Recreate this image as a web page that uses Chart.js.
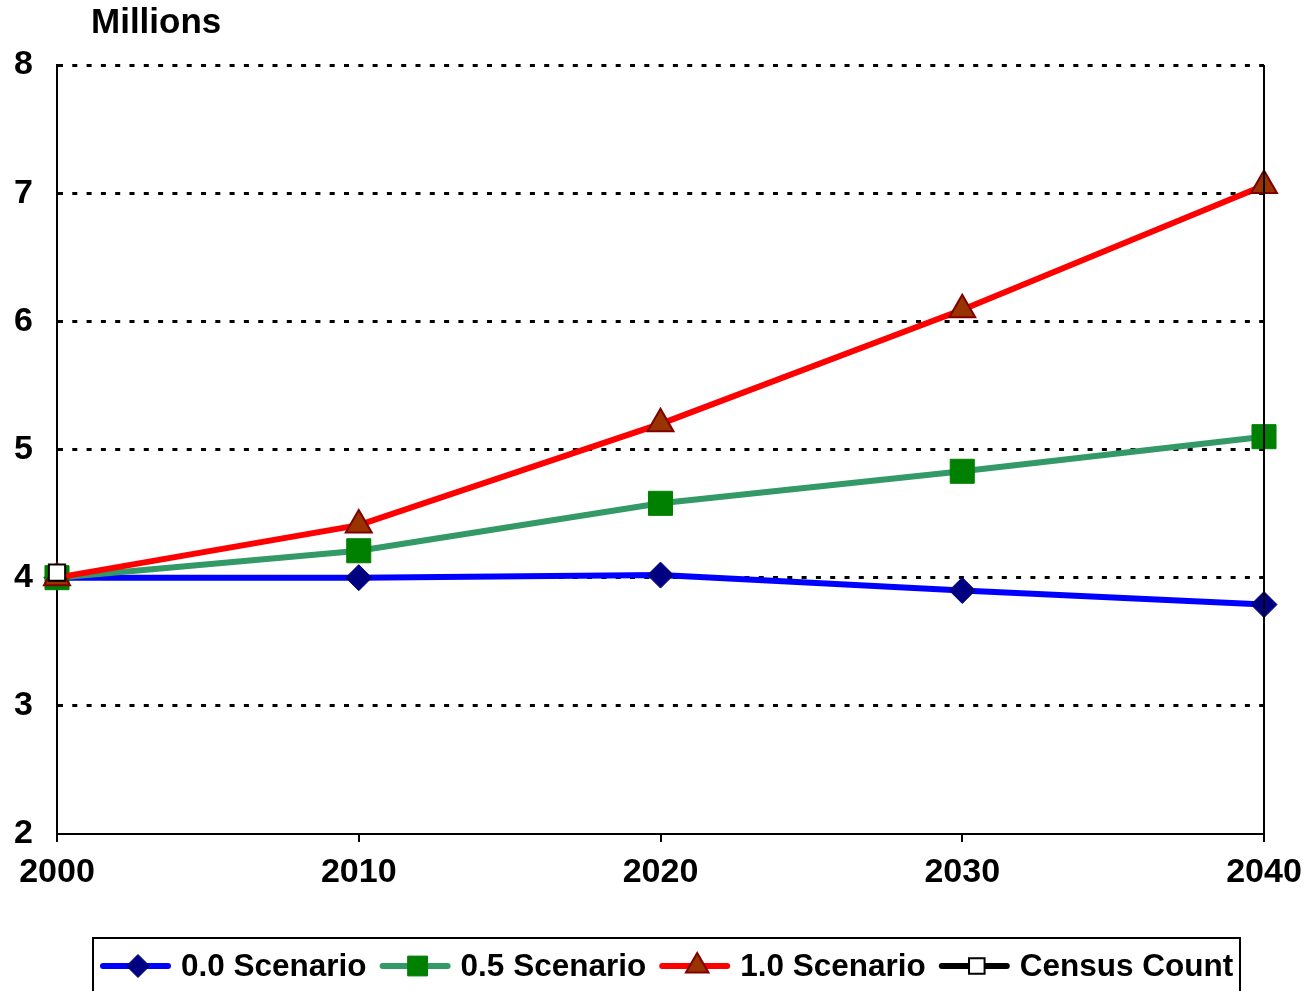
<!DOCTYPE html>
<html>
<head>
<meta charset="utf-8">
<script src="https://cdn.jsdelivr.net/npm/chart.js@4/dist/chart.umd.min.js"></script>
<style>
html,body{margin:0;padding:0;background:#fff;}
#wrap{position:relative;width:1308px;height:991px;overflow:hidden;}
</style>
</head>
<body>
<div id="wrap"><canvas id="c" width="1308" height="991"></canvas></div>
<script>
// ---- data ----
const years = ['2000', '2010', '2020', '2030', '2040'];
const scenario00 = [4.00, 4.00, 4.02, 3.90, 3.79];
const scenario05 = [4.00, 4.21, 4.58, 4.83, 5.10];
const scenario10 = [4.00, 4.41, 5.20, 6.09, 7.06];
const censusCount = [4.04, null, null, null, null];
const seriesNames = ['0.0 Scenario', '0.5 Scenario', '1.0 Scenario', 'Census Count'];
const yTicks = [2, 3, 4, 5, 6, 7, 8];
const unitLabel = 'Millions';

const FONT = '"Liberation Sans", Arial, sans-serif';

const datasets = [
  {label: seriesNames[0], data: scenario00, borderColor: '#0000FF', borderWidth: 6,
   pointStyle: 'rectRot', pointRadius: 13, pointBackgroundColor: '#000080', pointBorderColor: '#000080', pointBorderWidth: 1, order: 3},
  {label: seriesNames[1], data: scenario05, borderColor: '#339966', borderWidth: 6,
   pointStyle: 'rect', pointRadius: 17, pointBackgroundColor: '#008000', pointBorderColor: '#008000', pointBorderWidth: 1, order: 2},
  {label: seriesNames[2], data: scenario10, borderColor: '#FF0000', borderWidth: 6,
   pointStyle: 'triangle', pointRadius: 15, pointBackgroundColor: '#993300', pointBorderColor: '#800000', pointBorderWidth: 2, order: 1},
  {label: seriesNames[3], data: censusCount, borderColor: '#000000', borderWidth: 6,
   pointStyle: 'rect', pointRadius: 11.5, pointBackgroundColor: '#FFFFFF', pointBorderColor: '#000000', pointBorderWidth: 2, order: 0}
];

const extras = {
  id: 'extras',
  afterDraw(chart) {
    const ctx = chart.ctx;
    const a = chart.chartArea;
    ctx.save();
    // right frame line
    ctx.strokeStyle = '#000';
    ctx.lineWidth = 2;
    ctx.beginPath();
    ctx.moveTo(a.right, a.top);
    ctx.lineTo(a.right, a.bottom + 8);
    ctx.stroke();
    // unit label
    ctx.fillStyle = '#000';
    ctx.font = 'bold 35px ' + FONT;
    ctx.textBaseline = 'middle';
    ctx.textAlign = 'left';
    ctx.fillText(unitLabel, 91, 23);
    // legend
    ctx.lineWidth = 2;
    ctx.strokeStyle = '#000';
    ctx.strokeRect(93, 938, 1147, 70);
    ctx.font = 'bold 31.5px ' + FONT;
    let x = 103;
    const y = 966;
    chart.data.datasets.forEach(ds => {
      ctx.strokeStyle = ds.borderColor;
      ctx.lineWidth = 6;
      ctx.lineCap = 'round';
      ctx.beginPath();
      ctx.moveTo(x, y);
      ctx.lineTo(x + 65, y);
      ctx.stroke();
      ctx.lineCap = 'butt';
      ctx.fillStyle = ds.pointBackgroundColor;
      ctx.strokeStyle = ds.pointBorderColor;
      ctx.lineWidth = ds.pointBorderWidth;
      let r = ds.pointRadius;
      if (ds.pointStyle === 'rect' && r > 13) r = 14;
      if (ds.pointStyle === 'triangle') r = 13;
      if (ds.pointStyle === 'rectRot') r = 11.5;
      if (ds.pointStyle === 'rect' && r < 13) r = 11;
      Chart.helpers.drawPoint(ctx, {pointStyle: ds.pointStyle, rotation: 0, radius: r, borderWidth: ds.pointBorderWidth}, x + 35, y);
      ctx.fillStyle = '#000';
      ctx.fillText(ds.label, x + 78, y + 1);
      x = x + 78 + ctx.measureText(ds.label).width + 16;
    });
    ctx.restore();
  }
};

new Chart(document.getElementById('c'), {
  type: 'line',
  data: {labels: years, datasets: datasets},
  plugins: [extras],
  options: {
    responsive: false,
    animation: false,
    devicePixelRatio: 1,
    layout: {padding: {left: 0, right: 44, top: 65, bottom: 0}},
    elements: {line: {tension: 0, borderCapStyle: 'round'}},
    plugins: {legend: {display: false}, tooltip: {enabled: false}, title: {display: false}},
    scales: {
      x: {
        type: 'category',
        offset: false,
        afterFit: s => { s.height = 157; s.paddingLeft = 0; s.paddingRight = 0; },
        grid: {display: true, drawOnChartArea: false, drawTicks: true, tickLength: 8, color: '#000', lineWidth: 2},
        border: {display: true, color: '#000', width: 2},
        ticks: {color: '#000', font: {family: FONT, size: 34, weight: 'bold'}, padding: 10, maxRotation: 0, autoSkip: false}
      },
      y: {
        min: 2, max: 8,
        afterFit: s => { s.width = 57; s.paddingTop = 0; s.paddingBottom = 0; },
        afterBuildTicks: s => { s.ticks = yTicks.map(v => ({value: v})); },
        grid: {display: true, drawTicks: false, color: ctx => (ctx.tick && ctx.tick.value === 2) ? 'rgba(0,0,0,0)' : '#000', lineWidth: 3},
        border: {display: true, color: '#000', width: 2, dash: [5, 9.3]},
        ticks: {color: '#000', font: {family: FONT, size: 34, weight: 'bold'}, padding: 24}
      }
    }
  }
});
</script>
</body>
</html>
